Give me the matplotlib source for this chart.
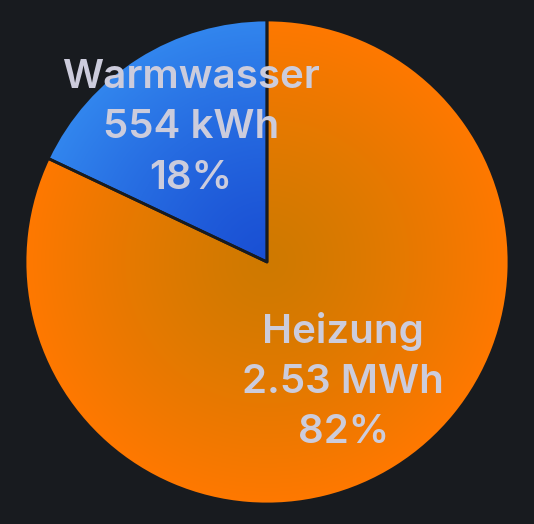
import numpy as np
import matplotlib
matplotlib.use('Agg')
from matplotlib import pyplot as plt
from matplotlib.colors import to_rgb

labels = ['Warmwasser', 'Heizung']
values_kwh = [554, 2530]
value_texts = ['554 kWh', '2.53 MWh']
center_colors = ['#1a50d4', '#cf7a00']
edge_colors = ['#3286ee', '#ff7800']

bg = '#181b1f'
text_color = '#ccccdc'

fig = plt.figure(figsize=(5.34, 5.24), dpi=100, facecolor=bg)
ax = fig.add_axes([0, 0, 1, 1])
ax.set_facecolor(bg)

radius_px = 242
cx, cy = 267, 262

total = sum(values_kwh)
wedges, _ = ax.pie(values_kwh, startangle=90, counterclock=True, radius=1,
                   colors=edge_colors, frame=False,
                   wedgeprops=dict(edgecolor=bg, linewidth=2, joinstyle='round'))
ax.set_xlim(-cx / radius_px, (534 - cx) / radius_px)
ax.set_ylim(-cy / radius_px, (524 - cy) / radius_px)
ax.set_aspect('auto')
ax.axis('off')

# radial gradient per slice
n = 600
xs = np.linspace(-1.05, 1.05, n)
X, Y = np.meshgrid(xs, xs)
R = np.clip(np.sqrt(X ** 2 + Y ** 2), 0, 1)
for w, c0, c1 in zip(wedges, center_colors, edge_colors):
    a = np.array(to_rgb(c0))
    b = np.array(to_rgb(c1))
    t = R[..., None] ** 1.3
    img = a + (b - a) * t
    im = ax.imshow(img, extent=(-1.05, 1.05, -1.05, 1.05), origin='lower',
                   interpolation='bilinear', zorder=1)
    im.set_clip_path(w)
    w.set_facecolor('none')
    w.set_zorder(2)

# labels
angle = 90.0
for lab, v, vt in zip(labels, values_kwh, value_texts):
    frac = v / total
    mid = np.deg2rad(angle + frac * 360 / 2)
    angle += frac * 360
    d = 0.62
    ax.text(0.95 * d * np.cos(mid), d * np.sin(mid) + 0.03,
            f'{lab}\n{vt}\n{round(frac * 100)}%',
            ha='center', va='center', color=text_color, fontsize=29,
            family=['Inter', 'DejaVu Sans'], fontweight='semibold',
            linespacing=1.45, zorder=3)

fig.savefig('out.png', dpi=100, facecolor=bg)
